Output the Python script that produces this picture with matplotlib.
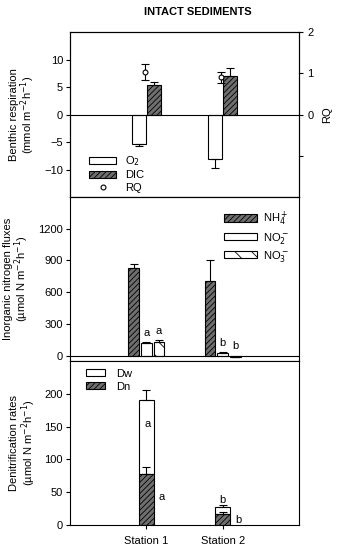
import matplotlib
matplotlib.use('Agg')
import matplotlib.pyplot as plt
import numpy as np

plt.rcParams['font.family'] = ['Liberation Sans', 'DejaVu Sans']
plt.rcParams['font.size'] = 8
plt.rcParams['hatch.linewidth'] = 0.6

stations = ['Station 1', 'Station 2']

# benthic respiration (mmol m-2 h-1)
o2 = [-5.4, -8.1]
o2_err = [0.3, 1.7]
dic = [5.3, 6.96]
dic_err = [0.6, 1.5]
rq = [1.03, 0.9]
rq_err = [0.19, 0.13]

# inorganic nitrogen fluxes (umol N m-2 h-1)
nh4 = [832, 710]
nh4_err = [38, 190]
no2 = [122, 28]
no2_err = [4, 4]
no3 = [129, -8]
no3_err = [16, 7]
nox_letters = [['a', 'a'], ['b', 'b']]

# denitrification rates (umol N m-2 h-1)
dn = [77, 16]
dn_err = [11.5, 4]
dw = [114, 11]
tot_err = [15, 3.5]
dn_letters = ['a', 'b']
dw_letters = ['a', 'b']

x = np.arange(1, len(stations) + 1)
dark = '#6e6e6e'

fig = plt.figure(figsize=(3.39, 5.5), dpi=100)
L, W = 0.2065, 0.6755
ax1 = fig.add_axes([L, 0.6418, W, 0.300])
ax2 = fig.add_axes([L, 0.3436, W, 0.2982])
ax3 = fig.add_axes([L, 0.0455, W, 0.2981])

for ax in (ax1, ax2, ax3):
    ax.set_xlim(0, 3)
    ax.tick_params(direction='out', length=3, width=0.8, pad=2)
    for s in ax.spines.values():
        s.set_linewidth(0.8)

ekw = dict(fmt='none', ecolor='black', elinewidth=0.8, capsize=3, capthick=0.8)

# --- top panel
w1 = 0.18
b_o2 = ax1.bar(x - 0.1, o2, w1, color='white', edgecolor='black', linewidth=0.8, label='O$_2$')
b_dic = ax1.bar(x + 0.1, dic, w1, color=dark, edgecolor='black', linewidth=0.8,
                hatch='//////', label='DIC')
ax1.errorbar(x - 0.1, o2, yerr=[o2_err, [0, 0]], **ekw)
ax1.errorbar(x + 0.1, dic, yerr=[[0, 0], dic_err], **ekw)
ax1.axhline(0, color='black', lw=0.8)
ax1.set_ylim(-15, 15)
ax1.set_yticks([-10, -5, 0, 5, 10])
ax1.set_xticks([])
ax1.set_ylabel('Benthic respiration\n(mmol m$^{-2}$h$^{-1}$)', labelpad=5, linespacing=1.0)

ax1r = ax1.twinx()
ax1r.set_ylim(-2, 2)
ax1r.set_yticks([-1, 0, 1, 2])
ax1r.set_yticklabels(['', '0', '1', '2'])
ax1r.tick_params(direction='out', length=3, width=0.8, pad=3)
rq_pts = ax1r.errorbar(x - 0.02, rq, yerr=rq_err, fmt='o', ms=3.5, mfc='white', mec='black',
                       mew=0.8, ecolor='black', elinewidth=0.8, capsize=3, capthick=0.8,
                       label='RQ')
ax1r.set_ylabel('RQ', labelpad=6)
ax1.legend([b_o2, b_dic, rq_pts[0]], ['O$_2$', 'DIC', 'RQ'], loc='lower left',
           bbox_to_anchor=(0.05, -0.02), frameon=False, handlelength=2.4, handleheight=0.6,
           labelspacing=0.2, handletextpad=0.8, borderpad=0.2)

# --- middle panel
w2 = 0.14
b_nh4 = ax2.bar(x - 0.165, nh4, w2, color=dark, edgecolor='black', linewidth=0.8,
                hatch='//////', label='NH$_4^+$')
b_no2 = ax2.bar(x, no2, w2, color='white', edgecolor='black', linewidth=0.8, label='NO$_2^-$')
b_no3 = ax2.bar(x + 0.165, no3, w2, color='white', edgecolor='black', linewidth=0.8,
                hatch='\\\\', label='NO$_3^-$')
ax2.errorbar(x - 0.165, nh4, yerr=[[0, 0], nh4_err], **ekw)
ax2.errorbar(x, no2, yerr=[[0, 0], no2_err], **ekw)
ax2.errorbar(x + 0.165, no3, yerr=[[0, no3_err[1]], [no3_err[0], 0]], **ekw)
ax2.axhline(0, color='black', lw=0.8)
ax2.set_ylim(-50, 1500)
ax2.set_yticks([0, 300, 600, 900, 1200])
ax2.set_xticks([])
ax2.set_ylabel('Inorganic nitrogen fluxes\n(µmol N m$^{-2}$h$^{-1}$)', labelpad=5, linespacing=1.0)
for i in range(len(x)):
    top2 = max(no2[i], 0) + no2_err[i]
    top3 = max(no3[i], 0) + (no3_err[i] if no3[i] > 0 else 0)
    ax2.text(x[i], top2 + 40, nox_letters[i][0], ha='center', va='bottom', fontsize=8)
    ax2.text(x[i] + 0.165, top3 + 40, nox_letters[i][1], ha='center', va='bottom', fontsize=8)
ax2.legend(loc='upper right', bbox_to_anchor=(0.99, 0.97), frameon=False, handlelength=3.0,
           handleheight=0.6, labelspacing=0.25, handletextpad=0.5, borderpad=0.2)

# --- bottom panel
w3 = 0.2
b_dw = ax3.bar(x, dw, w3, bottom=dn, color='white', edgecolor='black', linewidth=0.8,
               label='Dw')
b_dn = ax3.bar(x, dn, w3, color=dark, edgecolor='black', linewidth=0.8, hatch='//////',
               label='Dn')
tot = [a + b for a, b in zip(dn, dw)]
ax3.errorbar(x, tot, yerr=[[0, 0], tot_err], **ekw)
ax3.errorbar(x, dn, yerr=[[0, 0], dn_err], **ekw)
ax3.set_ylim(0, 250)
ax3.set_yticks([0, 50, 100, 150, 200])
ax3.set_xticks(x)
ax3.set_xticklabels(stations)
ax3.tick_params(axis='x', pad=5)
ax3.set_ylabel('Denitrification rates\n(µmol N m$^{-2}$h$^{-1}$)', labelpad=5, linespacing=1.0)
ax3.text(x[0] + 0.02, dn[0] + dw[0] * 0.67, dw_letters[0], ha='center', va='center', fontsize=8)
ax3.text(x[1], tot[1] + tot_err[1] + 7, dw_letters[1], ha='center', va='center', fontsize=8)
for i in range(len(x)):
    ax3.text(x[i] + 0.2, dn[i] * 0.55 if i == 0 else dn[i] * 0.5, dn_letters[i],
             ha='center', va='center', fontsize=8)
ax3.legend([b_dw, b_dn], ['Dw', 'Dn'], loc='upper left', bbox_to_anchor=(0.035, 1.0),
           frameon=False, handlelength=1.7, handleheight=0.6, labelspacing=0.25,
           handletextpad=1.0, borderpad=0.2)

fig.text(0.583, 0.978, 'INTACT SEDIMENTS', ha='center', va='center', fontsize=8,
         fontweight='bold')

fig.savefig('out.png', dpi=100)
